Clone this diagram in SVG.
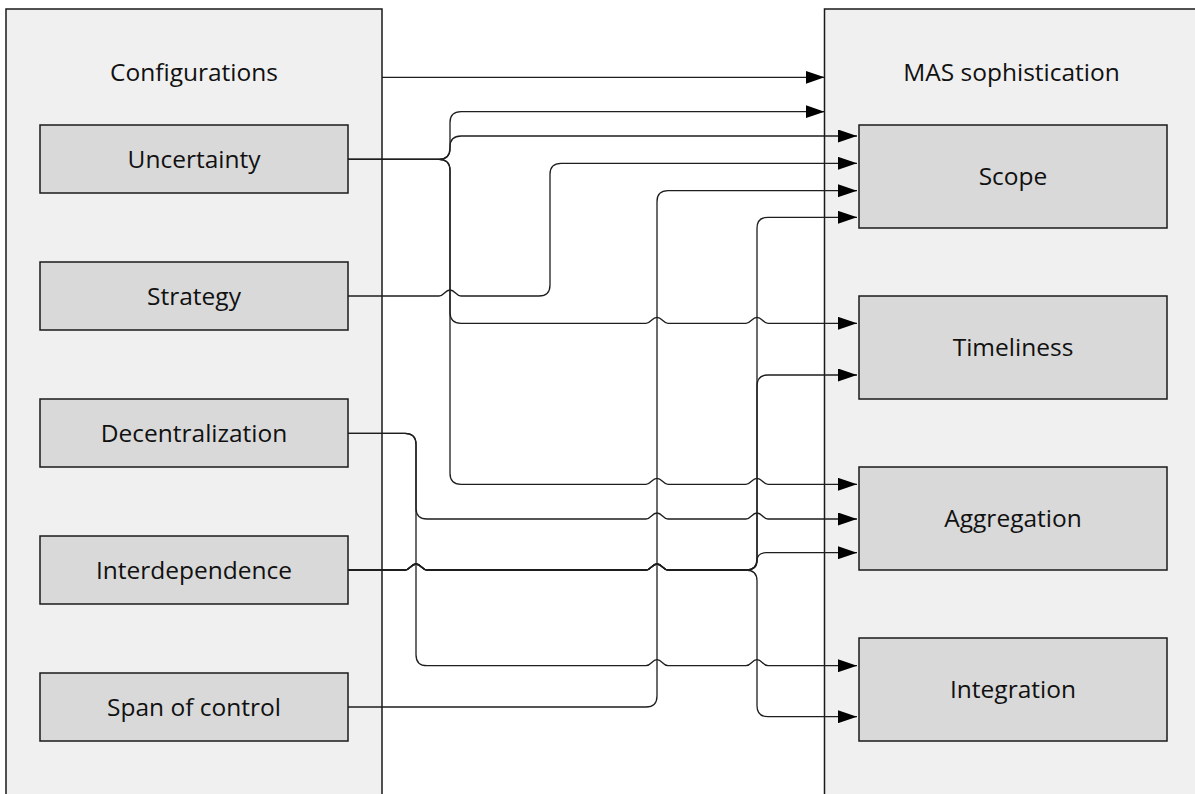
<svg xmlns="http://www.w3.org/2000/svg" width="1195" height="794" viewBox="0 0 1195 794">
  <defs>
    <marker id="arrow" viewBox="0 0 19 13" markerWidth="19" markerHeight="13" refX="19" refY="6.5" orient="auto" markerUnits="userSpaceOnUse">
      <path d="M0,0 L19,6.5 L0,13 z" fill="#000"/>
    </marker>
    <style>
      .container { fill: #f0f0f0; stroke: #1a1a1a; stroke-width: 1.5; }
      .node rect { fill: #d9d9d9; stroke: #1a1a1a; stroke-width: 1.5; }
      text { font-family: "Open Sans", "Liberation Sans", sans-serif; font-size: 24.5px; fill: #111; text-anchor: middle; }
      .edge { fill: none; stroke: #1e1e1e; stroke-width: 1.3; marker-end: url(#arrow); }
    </style>
  </defs>
  <rect width="1195" height="794" fill="#fff"/>

  <!-- containers -->
  <g id="configurations">
    <rect class="container" x="6" y="9" width="376" height="800"/>
    <text x="194" y="81">Configurations</text>
  </g>
  <g id="mas-sophistication">
    <rect class="container" x="824.5" y="9" width="380" height="800"/>
    <text x="1011.5" y="81">MAS sophistication</text>
  </g>

  <!-- left nodes -->
  <g id="uncertainty" class="node">
    <rect x="40" y="125" width="308" height="68"/>
    <text x="194" y="167.8">Uncertainty</text>
  </g>
  <g id="strategy" class="node">
    <rect x="40" y="262" width="308" height="68"/>
    <text x="194" y="304.8">Strategy</text>
  </g>
  <g id="decentralization" class="node">
    <rect x="40" y="399" width="308" height="68"/>
    <text x="194" y="441.8">Decentralization</text>
  </g>
  <g id="interdependence" class="node">
    <rect x="40" y="536" width="308" height="68"/>
    <text x="194" y="578.8">Interdependence</text>
  </g>
  <g id="span-of-control" class="node">
    <rect x="40" y="673" width="308" height="68"/>
    <text x="194" y="715.8">Span of control</text>
  </g>

  <!-- right nodes -->
  <g id="scope" class="node">
    <rect x="859" y="125" width="308" height="103"/>
    <text x="1013" y="185.3">Scope</text>
  </g>
  <g id="timeliness" class="node">
    <rect x="859" y="296" width="308" height="103"/>
    <text x="1013" y="356.3">Timeliness</text>
  </g>
  <g id="aggregation" class="node">
    <rect x="859" y="467" width="308" height="103"/>
    <text x="1013" y="527.3">Aggregation</text>
  </g>
  <g id="integration" class="node">
    <rect x="859" y="638" width="308" height="103"/>
    <text x="1013" y="698.3">Integration</text>
  </g>

  <!-- connectors -->
  <g id="connectors">
    <path class="edge" d="M382,77.3 H824.5"/>
    <!-- Uncertainty -->
    <path class="edge" d="M348,159.3 H439 Q450,159.3 450,148.3 V122.7 Q450,111.7 461,111.7 H824.5"/>
    <path class="edge" d="M348,159.3 H439 Q450,159.3 450,148.3 V147 Q450,136 461,136 H857"/>
    <path class="edge" d="M348,159.3 H439 Q450,159.3 450,170.3 V312.3 Q450,323.3 461,323.3 H646 C651,323.3 652,317.3 657,317.3 C662,317.3 663,323.3 668,323.3 H746 C751,323.3 752,317.3 757,317.3 C762,317.3 763,323.3 768,323.3 H857"/>
    <path class="edge" d="M348,159.3 H439 Q450,159.3 450,170.3 V473.3 Q450,484.3 461,484.3 H646 C651,484.3 652,478.3 657,478.3 C662,478.3 663,484.3 668,484.3 H746 C751,484.3 752,478.3 757,478.3 C762,478.3 763,484.3 768,484.3 H857"/>
    <!-- Strategy -->
    <path class="edge" d="M348,296 H439 C444,296 445,290 450,290 C455,290 456,296 461,296 H539 Q550,296 550,285 V174.3 Q550,163.3 561,163.3 H857"/>
    <!-- Decentralization -->
    <path class="edge" d="M348,433.3 H405 Q416,433.3 416,444.3 V508 Q416,519 427,519 H646 C651,519 652,513 657,513 C662,513 663,519 668,519 H746 C751,519 752,513 757,513 C762,513 763,519 768,519 H857"/>
    <path class="edge" d="M348,433.3 H405 Q416,433.3 416,444.3 V654.7 Q416,665.7 427,665.7 H646 C651,665.7 652,659.7 657,659.7 C662,659.7 663,665.7 668,665.7 H746 C751,665.7 752,659.7 757,659.7 C762,659.7 763,665.7 768,665.7 H857"/>
    <!-- Interdependence -->
    <path class="edge" d="M348,570 H405 C410,570 411,564 416,564 C421,564 422,570 427,570 H646 C651,570 652,564 657,564 C662,564 663,570 668,570 H746 Q757,570 757,559 V228.3 Q757,217.3 768,217.3 H857"/>
    <path class="edge" d="M348,570 H405 C410,570 411,564 416,564 C421,564 422,570 427,570 H646 C651,570 652,564 657,564 C662,564 663,570 668,570 H746 Q757,570 757,559 V386 Q757,375 768,375 H857"/>
    <path class="edge" d="M348,570 H405 C410,570 411,564 416,564 C421,564 422,570 427,570 H646 C651,570 652,564 657,564 C662,564 663,570 668,570 H746 Q757,570 757,561 Q757,552.7 766,552.7 H857"/>
    <path class="edge" d="M348,570 H405 C410,570 411,564 416,564 C421,564 422,570 427,570 H646 C651,570 652,564 657,564 C662,564 663,570 668,570 H746 Q757,570 757,581 V705.7 Q757,716.7 768,716.7 H857"/>
    <!-- Span of control -->
    <path class="edge" d="M348,707 H646 Q657,707 657,696 V201.7 Q657,190.7 668,190.7 H857"/>
  </g>
</svg>
